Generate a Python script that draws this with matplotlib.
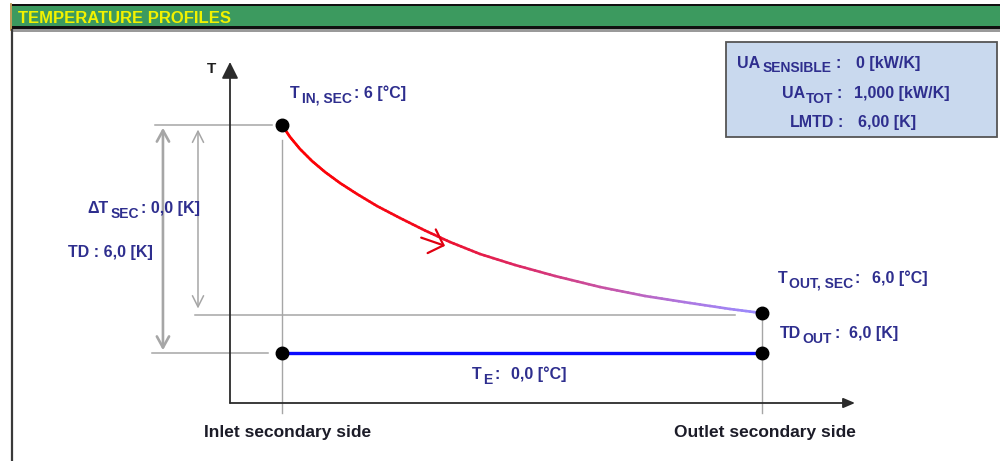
import matplotlib
matplotlib.use("Agg")
import matplotlib.pyplot as plt
import numpy as np
from matplotlib.collections import LineCollection
from matplotlib.colors import LinearSegmentedColormap
from matplotlib.patches import Rectangle

# ---- operating point -------------------------------------------------------
T_IN_SEC = 6          # [°C]
T_OUT_SEC = 6.0       # [°C]
T_E = 0.0             # [°C]
DT_SEC = 0.0          # [K]
TD = 6.0              # [K]
TD_OUT = 6.0          # [K]
UA_SENSIBLE = 0       # [kW/K]
UA_TOT = 1.000        # [kW/K]
LMTD = 6.00           # [K]

# ---- schematic profile -----------------------------------------------------
STATIONS = ["Inlet secondary side", "Outlet secondary side"]
STATION_POS = [0.0, 1.0]

# drawing levels (0 = evaporating temperature, 1 = secondary inlet)
LEVEL_IN = 1.0
LEVEL_OUT = 0.175
LEVEL_E = 0.0

# secondary fluid cooling curve (schematic shape)
CURVE_X = [0.0, 0.0167, 0.0375, 0.0625, 0.0896, 0.1208, 0.1563, 0.1979,
           0.2458, 0.2979, 0.35, 0.4125, 0.4854, 0.5688, 0.6625, 0.7563,
           0.85, 0.9333, 1.0]
CURVE_Y = [1.0, 0.9474, 0.8947, 0.8421, 0.7939, 0.7456, 0.6974, 0.6447,
           0.5921, 0.5373, 0.4868, 0.4342, 0.3860, 0.3377, 0.2895, 0.25,
           0.2193, 0.1930, 0.175]


def dec(v, n):
    return f"{v:.{n}f}".replace(".", ",")


BLUE_TXT = "#2e2e8e"
GREY = "#a6a6a6"
FONT = "Liberation Sans"
MAIN_SIZE, SUB_SIZE = 11.5, 10

W, H = 1000, 461
fig = plt.figure(figsize=(W / 100, H / 100), dpi=100)
fig.patch.set_facecolor("white")

# ---- schematic axes ----------------------------------------------------------
x0_px, x1_px, y0_px, y1_px = 230, 855, 403, 62
ax = fig.add_axes([x0_px / W, 1 - y0_px / H, (x1_px - x0_px) / W, (y0_px - y1_px) / H])
ax.set_zorder(2)
ax.patch.set_alpha(0)
ax.set_xlim(-0.10833, 1.19375)
ax.set_ylim(-0.2193, 1.27632)
ax.axis("off")

# axes with arrow heads
ax.annotate("", xy=(0, 1), xytext=(0, 0), xycoords="axes fraction",
            arrowprops=dict(arrowstyle="-|>,head_length=0.5,head_width=0.25",
                            mutation_scale=20, color="#2b2b2b", lw=1.3,
                            shrinkA=0, shrinkB=0))
ax.annotate("", xy=(1, 0), xytext=(0, 0), xycoords="axes fraction",
            arrowprops=dict(arrowstyle="-|>,head_length=0.35,head_width=0.15",
                            mutation_scale=20, color="#2b2b2b", lw=1.3,
                            shrinkA=0, shrinkB=0))
ax.text(-0.03, 1.0, "T", transform=ax.transAxes, fontsize=11, family=FONT,
        weight="bold", color="#1e1e1e", ha="center", va="top")

# station ticks
tick_bottom = -0.263
ax.plot([STATION_POS[0]] * 2, [0.934, tick_bottom], color=GREY, lw=1.0,
        clip_on=False, zorder=1)
ax.plot([STATION_POS[1]] * 2, [LEVEL_OUT, tick_bottom], color=GREY, lw=1.0,
        clip_on=False, zorder=1)
for pos, lab, dx in zip(STATION_POS, STATIONS, [6, 3]):
    ax.annotate(lab, xy=(pos, 0), xycoords=("data", "axes fraction"),
                xytext=(dx, -34), textcoords="offset pixels", ha="center",
                va="baseline", fontsize=12.5, family=FONT,
                weight="bold", color="#1c1c28")

# horizontal guide lines
ax.plot([-0.2646, -0.0208], [LEVEL_IN] * 2, color=GREY, lw=1.1, clip_on=False)
ax.plot([-0.181, 0.944], [LEVEL_OUT - 0.01] * 2, color=GREY, lw=1.1, clip_on=False)
ax.plot([-0.271, -0.029], [LEVEL_E] * 2, color=GREY, lw=1.1, clip_on=False)

# dimension arrows
ax.annotate("", xy=(-0.248, LEVEL_IN - 0.012), xytext=(-0.248, LEVEL_E + 0.012),
            arrowprops=dict(arrowstyle="<->,head_length=0.4,head_width=0.22",
                            mutation_scale=20, color=GREY, lw=1.9,
                            shrinkA=0, shrinkB=0), annotation_clip=False)
ax.annotate("", xy=(-0.175, LEVEL_IN - 0.02), xytext=(-0.175, LEVEL_OUT + 0.02),
            arrowprops=dict(arrowstyle="<->,head_length=0.4,head_width=0.2",
                            mutation_scale=20, color=GREY, lw=1.1,
                            shrinkA=0, shrinkB=0), annotation_clip=False)

# evaporating temperature line
ax.plot(STATION_POS, [LEVEL_E, LEVEL_E], color="#0a0aff", lw=2.4, zorder=3,
        solid_capstyle="butt")

# secondary fluid curve with colour gradient
cx = np.asarray(CURVE_X)
cy = np.asarray(CURVE_Y)
pts = []
for i in range(len(cx) - 1):
    for t in np.linspace(0, 1, 8, endpoint=False):
        pts.append((cx[i] + t * (cx[i + 1] - cx[i]), cy[i] + t * (cy[i + 1] - cy[i])))
pts.append((cx[-1], cy[-1]))
pts = np.array(pts)
segs = np.stack([pts[:-1], pts[1:]], axis=1)
mid = 0.5 * (pts[:-1, 0] + pts[1:, 0])
cmap = LinearSegmentedColormap.from_list(
    "sec", [(0.0, "#ff0000"), (0.3, "#f20a1e"), (0.5, "#dc2a66"),
            (0.7, "#c458ae"), (0.85, "#ac78e2"), (1.0, "#9a8cff")])
lc = LineCollection(segs, colors=cmap(mid), linewidths=1.9, zorder=3,
                    capstyle="round", joinstyle="round")
ax.add_collection(lc)

# flow direction chevron
ax.annotate("", xy=(0.3396, 0.470), xytext=(0.29, 0.506),
            arrowprops=dict(arrowstyle="->,head_length=0.45,head_width=0.45",
                            mutation_scale=20, color="#e00010", lw=1.6,
                            shrinkA=0, shrinkB=0), zorder=4)

# state points
ax.plot([STATION_POS[0], STATION_POS[1], STATION_POS[0], STATION_POS[1]],
        [LEVEL_IN, LEVEL_OUT, LEVEL_E, LEVEL_E], "o", color="black", ms=9,
        zorder=5)

# ---- overlay in figure pixels: frame, header, captions ----------------------
ov = fig.add_axes([0, 0, 1, 1])
ov.set_zorder(3)
ov.patch.set_alpha(0)
ov.set_xlim(0, W)
ov.set_ylim(H, 0)
ov.axis("off")

ov.add_patch(Rectangle((12, 4), W - 12, 25, facecolor="#111111", edgecolor="none"))
ov.add_patch(Rectangle((12, 6.5), W - 12, 19.5, facecolor="#3c9a5f", edgecolor="none"))
ov.add_patch(Rectangle((12, 29), W - 12, 3.5, facecolor="#9a9a9a", edgecolor="none"))
ov.plot([11, 11], [4, 30], color="#b08a3a", lw=1.2)
ov.plot([12, 12], [30, H], color="#3a3a3a", lw=1.6)
ov.text(18, 23, "TEMPERATURE PROFILES", fontsize=12, family=FONT, weight="bold",
        color="#f2f200", va="baseline", ha="left")

renderer = fig.canvas.get_renderer()


def caption(x, y, parts):
    """Write a run of label pieces left to right: (text, subscript, gap after)."""
    for s, sub, gap in parts:
        t = ov.text(x, y + (4.5 if sub else 0), s,
                    fontsize=(SUB_SIZE if sub else MAIN_SIZE), family=FONT,
                    weight="bold", color=BLUE_TXT, ha="left", va="baseline")
        x += t.get_window_extent(renderer).width + gap


# inlet temperature
caption(290, 98, [("T", False, 2), ("IN, SEC", True, 2),
                  (f": {T_IN_SEC} [°C]", False, 0)])

# dimension labels
caption(87, 213, [("ΔT", False, 2), ("SEC", True, 2),
                  (f": {dec(DT_SEC, 1)} [K]", False, 0)])
caption(68, 257, [(f"TD : {dec(TD, 1)} [K]", False, 0)])

# outlet temperature and approach
caption(778, 283, [("T", False, 1), ("OUT, SEC", True, 2), (":", False, 12),
                   (f"{dec(T_OUT_SEC, 1)} [°C]", False, 0)])
caption(780, 338, [("TD", False, 1), ("OUT", True, 3), (":", False, 9),
                   (f"{dec(TD_OUT, 1)} [K]", False, 0)])

# evaporating temperature
caption(472, 379, [("T", False, 1), ("E", True, 3), (":", False, 11),
                   (f"{dec(T_E, 1)} [°C]", False, 0)])

# summary box
ov.add_patch(Rectangle((726, 42), 271, 95, facecolor="#c9d9ee",
                       edgecolor="#555555", lw=1.3))
caption(737, 68, [("UA", False, 2), ("SENSIBLE", True, 4), (":", False, 16),
                  (f"{UA_SENSIBLE} [kW/K]", False, 0)])
caption(782, 98, [("UA", False, 1), ("TOT", True, 3), (":", False, 12),
                  (f"{dec(UA_TOT, 3)} [kW/K]", False, 0)])
caption(790, 127, [("LMTD", False, 3), (":", False, 15),
                   (f"{dec(LMTD, 2)} [K]", False, 0)])

fig.savefig("out.png", dpi=100, facecolor="white")
